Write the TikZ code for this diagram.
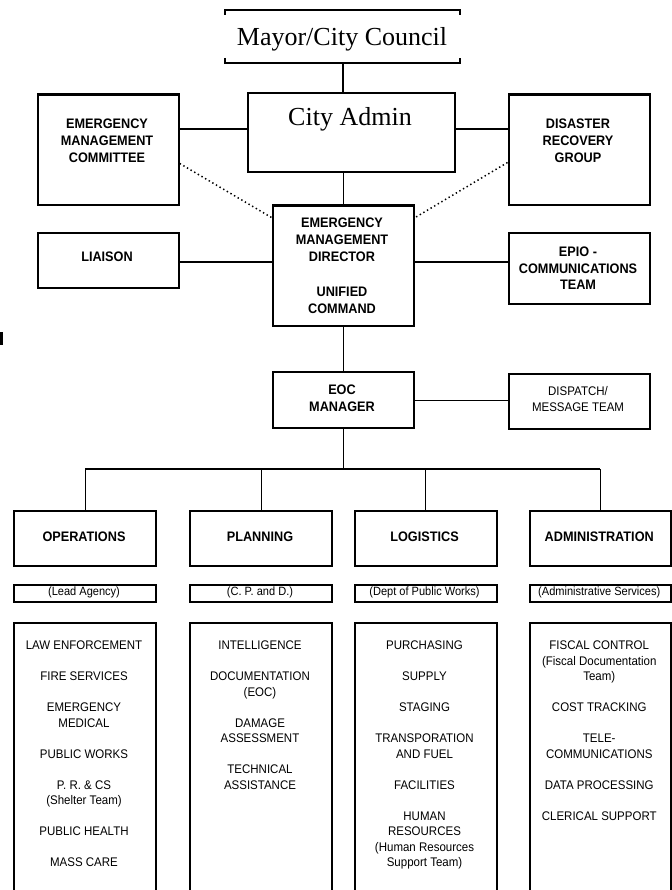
\documentclass[tikz,border=0pt]{standalone}
\usepackage{fontspec}
\setmainfont{Liberation Serif}
\newfontfamily\nsans[FakeStretch=0.92]{Liberation Sans}
\begin{document}
\begin{tikzpicture}[x=1pt,y=-1pt,
  box/.style={draw, line width=2.2pt, inner sep=0pt, anchor=north west},
  conn/.style={line width=1.2pt},
  dots/.style={line width=1.5pt, dash pattern=on 1.4pt off 2.8pt},
  bhead/.style={anchor=north, inner sep=0pt, align=center, font=\nsans\bfseries\fontsize{13.8}{17}\selectfont},
  bone/.style={anchor=center, inner sep=0pt, font=\nsans\bfseries\fontsize{13.8}{17}\selectfont},
  rtext/.style={anchor=north, inner sep=0pt, align=center, font=\nsans\fontsize{12.5}{15.5}\selectfont},
  subtext/.style={anchor=center, inner sep=0pt, font=\nsans\fontsize{12}{14}\selectfont},
  serif/.style={anchor=base, inner sep=0pt, font=\fontsize{26}{28}\selectfont},
]
\useasboundingbox (0,0) rectangle (671,890);

% glyph fragment at the left edge
\fill (0,332) rectangle (2.7,345);

% Mayor / City Council
\node[serif] (mayor) at (342,46) {Mayor/City Council};
\coordinate (mtl) at (225,10);
\coordinate (mtr) at (460,10);
\coordinate (mbl) at (225,63);
\coordinate (mbr) at (460,63);
\coordinate (mb) at (343,63);
\draw[line width=2.4pt] ([yshift=-5pt]mtl) -- (mtl) -- (mtr) -- ([yshift=-5pt]mtr);
\draw[line width=2.4pt] ([yshift=5pt]mbl) -- (mbl) -- (mbr) -- ([yshift=5pt]mbr);

% boxes
\node[box, minimum width=207pt, minimum height=79pt] (cadmin) at (247,92) {};
\node[serif] (cadmint) at (350,126) {City Admin};

\node[box, minimum width=141pt, minimum height=110.5pt] (emc) at (36.5,93.5) {};
\node[bhead] (emct) at (107,118.3) {EMERGENCY\\MANAGEMENT\\COMMITTEE};

\node[box, minimum width=141pt, minimum height=110.5pt] (drg) at (507.5,93.5) {};
\node[bhead] (drgt) at (578,118.3) {DISASTER\\RECOVERY\\GROUP};

\node[box, minimum width=141.5pt, minimum height=120pt] (emd) at (271.5,204.5) {};
\node[bhead] (emdt) at (342,217.3) {EMERGENCY\\MANAGEMENT\\DIRECTOR\\[18pt]UNIFIED\\COMMAND};

\node[box, minimum width=141pt, minimum height=55pt] (liaison) at (36.5,232) {};
\node[bone] (liaisont) at (107,257) {LIAISON};

\node[box, minimum width=141pt, minimum height=71pt] (epio) at (507.5,232) {};
\node[bhead, font=\nsans\bfseries\fontsize{13.8}{16.5}\selectfont] (epiot) at (578,246.7) {EPIO -\\COMMUNICATIONS\\TEAM};

\node[box, minimum width=141.5pt, minimum height=56pt] (eoc) at (271.5,371) {};
\node[bhead] (eoct) at (342,384.3) {EOC\\MANAGER};

\node[box, minimum width=141.5pt, minimum height=55.5pt] (disp) at (507.5,372.5) {};
\node[rtext, font=\nsans\fontsize{12.5}{16}\selectfont] (dispt) at (578,386) {DISPATCH/\\MESSAGE TEAM};

% section headers
\node[box, minimum width=142pt, minimum height=55pt] (ops) at (13,510) {};
\node[box, minimum width=142pt, minimum height=55pt] (plan) at (189,510) {};
\node[box, minimum width=142pt, minimum height=55pt] (log) at (353.5,510) {};
\node[box, minimum width=140.5pt, minimum height=55pt] (adm) at (529,510) {};
\node[bone] (opst) at (84,536.7) {OPERATIONS};
\node[bone] (plant) at (260,536.7) {PLANNING};
\node[bone] (logt) at (424.5,536.7) {LOGISTICS};
\node[bone] (admt) at (599.25,536.7) {ADMINISTRATION};

% sub boxes
\node[box, minimum width=142pt, minimum height=17.5pt] (opss) at (13,583.5) {};
\node[box, minimum width=142pt, minimum height=17.5pt] (plans) at (189,583.5) {};
\node[box, minimum width=142pt, minimum height=17.5pt] (logs) at (353.5,583.5) {};
\node[box, minimum width=140.5pt, minimum height=17.5pt] (adms) at (529,583.5) {};
\node[subtext] (opsst) at (84,592) {(Lead Agency)};
\node[subtext] (plansst) at (260,592) {(C. P. and D.)};
\node[subtext] (logsst) at (424.5,592) {(Dept of Public Works)};
\node[subtext] (admsst) at (599.25,592) {(Administrative Services)};

% bottom boxes (open at the bottom edge)
\node[box, minimum width=142pt, minimum height=290pt] (opsb) at (13,622) {};
\node[box, minimum width=142pt, minimum height=290pt] (planb) at (189,622) {};
\node[box, minimum width=142pt, minimum height=290pt] (logb) at (353.5,622) {};
\node[box, minimum width=140.5pt, minimum height=290pt] (admb) at (529,622) {};

\node[rtext] (opsbt) at (84,641) {LAW ENFORCEMENT\\[15.5pt]FIRE SERVICES\\[15.5pt]EMERGENCY\\MEDICAL\\[15.5pt]PUBLIC WORKS\\[15.5pt]P. R. \& CS\\(Shelter Team)\\[15.5pt]PUBLIC HEALTH\\[15.5pt]MASS CARE};
\node[rtext] (planbt) at (260,641) {INTELLIGENCE\\[15.5pt]DOCUMENTATION\\(EOC)\\[15.5pt]DAMAGE\\ASSESSMENT\\[15.5pt]TECHNICAL\\ASSISTANCE};
\node[rtext] (logbt) at (424.5,641) {PURCHASING\\[15.5pt]SUPPLY\\[15.5pt]STAGING\\[15.5pt]TRANSPORATION\\AND FUEL\\[15.5pt]FACILITIES\\[15.5pt]HUMAN\\RESOURCES\\(Human Resources\\Support Team)};
\node[rtext] (admbt) at (599.25,641) {FISCAL CONTROL\\(Fiscal Documentation\\Team)\\[15.5pt]COST TRACKING\\[15.5pt]TELE-\\COMMUNICATIONS\\[15.5pt]DATA PROCESSING\\[15.5pt]CLERICAL SUPPORT};

% connectors
\coordinate (r1) at (0,129);
\coordinate (r2) at (0,262);
\coordinate (bus) at (343,469);
\draw[conn] (mb) -- (mb |- cadmin.north);
\draw[conn] (emc.east |- r1) -- (cadmin.west |- r1);
\draw[conn] (cadmin.east |- r1) -- (drg.west |- r1);
\draw[conn] (cadmin.south -| emd.north) -- (emd.north);
\draw[conn] (liaison.east |- r2) -- (emd.west |- r2);
\draw[conn] (emd.east |- r2) -- (epio.west |- r2);
\draw[conn] (emd.south) -- (eoc.north);
\draw[conn] (eoc.east) -- (eoc.east -| disp.west);
\draw[conn] (eoc.south) -- (eoc.south |- bus);
\draw[conn] (ops.north |- bus) -- (adm.north |- bus);
\draw[conn] (ops.north |- bus) -- (ops.north);
\draw[conn] (plan.north |- bus) -- (plan.north);
\draw[conn] (log.north |- bus) -- (log.north);
\draw[conn] (adm.north |- bus) -- (adm.north);
\draw[dots] ([yshift=-70pt]emc.north east) -- ([yshift=-13pt]emd.north west);
\draw[dots] ([yshift=-69pt]drg.north west) -- ([yshift=-13pt]emd.north east);
\end{tikzpicture}
\end{document}
